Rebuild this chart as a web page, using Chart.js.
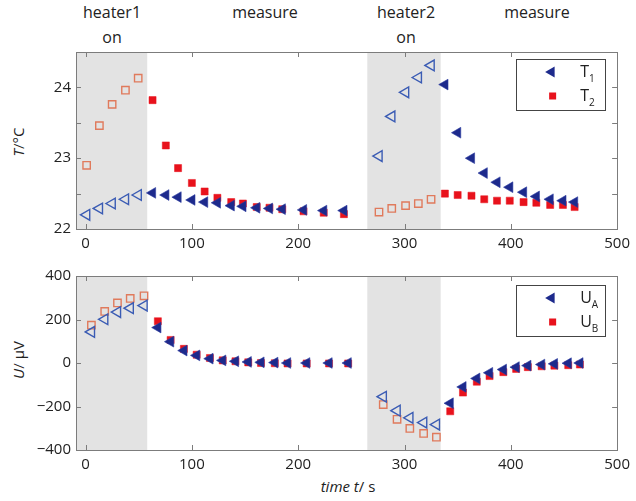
<!DOCTYPE html>
<html>
<head>
<meta charset="utf-8">
<script src="https://cdn.jsdelivr.net/npm/chart.js@4.4.0/dist/chart.umd.min.js"></script>
<style>
  body { margin: 0; background: #fff; width: 636px; height: 501px; overflow: hidden; position: relative;
         font-family: "Open Sans", "Noto Sans", sans-serif; color: #222; }
  canvas { position: absolute; left: 0; }
  .lbl { position: absolute; font-size: 16px; text-align: center; transform: translateX(-50%); line-height: 25px; white-space: nowrap; }
  .ylab { position: absolute; font-size: 15px; white-space: nowrap; transform: translate(-50%, -50%) rotate(-90deg); }
</style>
</head>
<body>
<div class="lbl" style="left:112px; top:0px;">heater1<br>on</div>
<div class="lbl" style="left:265px; top:0px;">measure</div>
<div class="lbl" style="left:406px; top:0px;">heater2<br>on</div>
<div class="lbl" style="left:537px; top:0px;">measure</div>
<div class="ylab" style="left:18px; top:142px;"><i>T</i>/°C</div>
<div class="ylab" style="left:18px; top:360px;"><i>U</i>/ µV</div>
<div class="lbl" style="left:348px; top:474px; font-size:15px;"><i>time t</i>/ s</div>

<canvas id="tempChart" width="636" height="262" style="top:0"></canvas>
<canvas id="voltChart" width="636" height="239" style="top:262px"></canvas>

<script>
// time axis
const xTicks = [0, 100, 200, 300, 400, 500];
const heaterPhases = [[-9, 58], [265, 334]];

// temperatures
const tHeat1T = [1, 13, 25, 37.5, 49.5];
const T1Heat1 = [22.20, 22.29, 22.36, 22.42, 22.48];
const T2Heat1 = [22.90, 23.46, 23.76, 23.96, 24.13];
const tMeas1T = [63, 75.5, 87, 100, 112, 124, 137, 148, 161, 173, 185, 205, 224, 243];
const T1Meas1 = [22.51, 22.48, 22.45, 22.41, 22.38, 22.37, 22.33, 22.32, 22.30, 22.29, 22.28, 22.27, 22.26, 22.26];
const T2Meas1 = [23.82, 23.18, 22.86, 22.65, 22.53, 22.44, 22.38, 22.36, 22.31, 22.30, 22.28, 22.25, 22.23, 22.21];
const tHeat2T = [276, 288, 301, 313, 325];
const T1Heat2 = [23.03, 23.59, 23.93, 24.14, 24.31];
const T2Heat2 = [22.24, 22.29, 22.33, 22.36, 22.42];
const tMeas2T = [338, 350, 363, 375, 387, 399, 412, 424, 437, 449, 460];
const T1Meas2 = [24.04, 23.36, 23.00, 22.79, 22.66, 22.59, 22.52, 22.46, 22.42, 22.40, 22.38];
const T2Meas2 = [22.50, 22.48, 22.47, 22.42, 22.40, 22.40, 22.38, 22.37, 22.34, 22.34, 22.31];
const tempTickLabels = [22, 23, 24];
const tempTickMarks = [22.5, 23, 23.5, 24];

// voltages
const tHeat1U = [5.5, 18, 30, 42, 55];
const UAHeat1 = [143, 201, 234, 252, 264];
const UBHeat1 = [174, 237, 276, 297, 309];
const tMeas1U = [68, 80, 92.5, 104.5, 117, 129, 141, 153, 165, 178, 190, 208, 229, 247];
const UAMeas1 = [163, 98, 57, 35, 20, 12, 8, 5, 3, 2, 0, 0, 0, 0];
const UBMeas1 = [192, 106, 65, 38, 23, 12, 8, 3, 0, -1, -2, -2, -2, -2];
const tHeat2U = [280, 293, 305, 318, 330];
const UAHeat2 = [-155, -219, -252, -274, -283];
const UBHeat2 = [-191, -259, -301, -324, -341];
const tMeas2U = [343, 355, 368, 380, 393, 405, 416, 429, 441, 454, 465];
const UAMeas2 = [-185, -110, -71, -45, -30, -19, -12, -7, -4, -1, 0];
const UBMeas2 = [-222, -136, -86, -60, -42, -27, -19, -15, -12, -10, -7];
const voltTickLabels = [-400, -200, 0, 200, 400];

const BLUE = '#1d2a8c', BLUE_OPEN = '#3b5cb4', RED = '#e8121c', RED_OPEN = '#e07a5c';

const pts = (xs, ys) => xs.map((x, i) => ({x: x, y: ys[i]}));

function triSet(xs, ys, open) {
    return {
        data: pts(xs, ys), pointStyle: 'triangle', rotation: -90, pointRadius: 6.2,
        backgroundColor: open ? 'rgba(0,0,0,0)' : BLUE,
        borderColor: open ? BLUE_OPEN : '#2a3aa0', borderWidth: open ? 1.4 : 0.6,
        showLine: false
    };
}
function sqSet(xs, ys, open) {
    return {
        data: pts(xs, ys), pointStyle: 'rect', pointRadius: open ? 5.2 : 5,
        backgroundColor: open ? 'rgba(0,0,0,0)' : RED,
        borderColor: open ? RED_OPEN : RED, borderWidth: open ? 1.4 : 0.5,
        showLine: false
    };
}

const shading = {
    id: 'shading',
    beforeDatasetsDraw(chart) {
        const {ctx, chartArea, scales} = chart;
        ctx.save();
        ctx.fillStyle = '#e3e3e3';
        heaterPhases.forEach(([a, b]) => {
            const x0 = scales.x.getPixelForValue(a), x1 = scales.x.getPixelForValue(b);
            ctx.fillRect(x0, chartArea.top, x1 - x0, chartArea.bottom - chartArea.top);
        });
        ctx.restore();
    }
};

// box around the plot with inward tick marks on all sides
const frame = {
    id: 'frame',
    afterDatasetsDraw(chart, args, opts) {
        const {ctx, chartArea: a, scales} = chart;
        ctx.save();
        ctx.strokeStyle = '#7c7c7c';
        ctx.lineWidth = 1;
        ctx.beginPath();
        xTicks.forEach(v => {
            const x = Math.round(scales.x.getPixelForValue(v)) + 0.5;
            ctx.moveTo(x, a.bottom); ctx.lineTo(x, a.bottom - 5);
            ctx.moveTo(x, a.top); ctx.lineTo(x, a.top + 5);
        });
        opts.yMarks.forEach(v => {
            const y = Math.round(scales.y.getPixelForValue(v)) + 0.5;
            ctx.moveTo(a.left, y); ctx.lineTo(a.left + 5, y);
            ctx.moveTo(a.right, y); ctx.lineTo(a.right - 5, y);
        });
        ctx.stroke();
        ctx.strokeRect(Math.round(a.left) + 0.5, Math.round(a.top) + 0.5,
                       Math.round(a.right - a.left), Math.round(a.bottom - a.top));
        ctx.restore();
    }
};

// legend with subscripts
const legendBox = {
    id: 'legendBox',
    afterDraw(chart, args, opts) {
        const {ctx, chartArea: a} = chart;
        const x0 = a.right - 101, y0 = a.top + opts.dy, w = 89, h = 51;
        ctx.save();
        ctx.fillStyle = '#fff';
        ctx.fillRect(x0, y0, w, h);
        ctx.strokeStyle = '#444';
        ctx.lineWidth = 1;
        ctx.strokeRect(Math.round(x0) + 0.5, Math.round(y0) + 0.5, w, h);
        opts.items.forEach((it, i) => {
            const cy = y0 + 13 + i * 24;
            const mx = x0 + 35;
            if (it.marker === 'tri') {
                ctx.fillStyle = BLUE;
                ctx.beginPath();
                ctx.moveTo(mx - 6, cy); ctx.lineTo(mx + 3.5, cy - 5.5); ctx.lineTo(mx + 3.5, cy + 5.5);
                ctx.closePath(); ctx.fill();
            } else {
                ctx.fillStyle = RED;
                ctx.fillRect(mx - 2, cy - 3.5, 7, 7);
            }
            ctx.fillStyle = '#222';
            ctx.textBaseline = 'middle';
            ctx.font = '16px "Open Sans", "Noto Sans", sans-serif';
            ctx.fillText(it.main, x0 + 64, cy);
            const mw = ctx.measureText(it.main).width;
            ctx.font = '10px "Open Sans", "Noto Sans", sans-serif';
            ctx.fillText(it.sub, x0 + 64 + mw, cy + 7);
        });
        ctx.restore();
    }
};

function axisOptions(yMin, yMax, yLabels, xHeight) {
    const tickFont = {family: '"Open Sans", "Noto Sans", sans-serif', size: 15};
    return {
        x: {
            type: 'linear', min: -9, max: 500,
            grid: {display: false, drawTicks: false}, border: {display: false},
            ticks: {font: tickFont, color: '#222', padding: 6, maxRotation: 0},
            afterBuildTicks: s => { s.ticks = xTicks.map(v => ({value: v})); },
            afterFit: s => { s.height = xHeight; }
        },
        y: {
            type: 'linear', min: yMin, max: yMax,
            grid: {display: false, drawTicks: false}, border: {display: false},
            ticks: {font: tickFont, color: '#222', padding: 5,
                    callback: v => String(v).replace('-', '\u2212')},
            afterBuildTicks: s => { s.ticks = yLabels.map(v => ({value: v})); },
            afterFit: s => { s.width = 76; }
        }
    };
}

new Chart(document.getElementById('tempChart'), {
    type: 'scatter',
    data: {
        datasets: [
            triSet(tHeat1T, T1Heat1, true), triSet(tMeas1T, T1Meas1, false),
            triSet(tHeat2T, T1Heat2, true), triSet(tMeas2T, T1Meas2, false),
            sqSet(tHeat1T, T2Heat1, true), sqSet(tMeas1T, T2Meas1, false),
            sqSet(tHeat2T, T2Heat2, true), sqSet(tMeas2T, T2Meas2, false)
        ]
    },
    options: {
        responsive: false, animation: false,
        layout: {padding: {top: 52, right: 14, left: 0, bottom: 0}},
        scales: axisOptions(22, 24.5, tempTickLabels, 33),
        plugins: {
            legend: {display: false}, tooltip: {enabled: false},
            frame: {yMarks: tempTickMarks},
            legendBox: {dy: 7, items: [{marker: 'tri', main: 'T', sub: '1'}, {marker: 'sq', main: 'T', sub: '2'}]}
        }
    },
    plugins: [shading, frame, legendBox]
});

new Chart(document.getElementById('voltChart'), {
    type: 'scatter',
    data: {
        datasets: [
            triSet(tHeat1U, UAHeat1, true), triSet(tMeas1U, UAMeas1, false),
            triSet(tHeat2U, UAHeat2, true), triSet(tMeas2U, UAMeas2, false),
            sqSet(tHeat1U, UBHeat1, true), sqSet(tMeas1U, UBMeas1, false),
            sqSet(tHeat2U, UBHeat2, true), sqSet(tMeas2U, UBMeas2, false)
        ]
    },
    options: {
        responsive: false, animation: false,
        layout: {padding: {top: 11, right: 14, left: 0, bottom: 0}},
        scales: axisOptions(-400, 400, voltTickLabels, 51),
        plugins: {
            legend: {display: false}, tooltip: {enabled: false},
            frame: {yMarks: voltTickLabels},
            legendBox: {dy: 9, items: [{marker: 'tri', main: 'U', sub: 'A'}, {marker: 'sq', main: 'U', sub: 'B'}]}
        }
    },
    plugins: [shading, frame, legendBox]
});
</script>
</body>
</html>
